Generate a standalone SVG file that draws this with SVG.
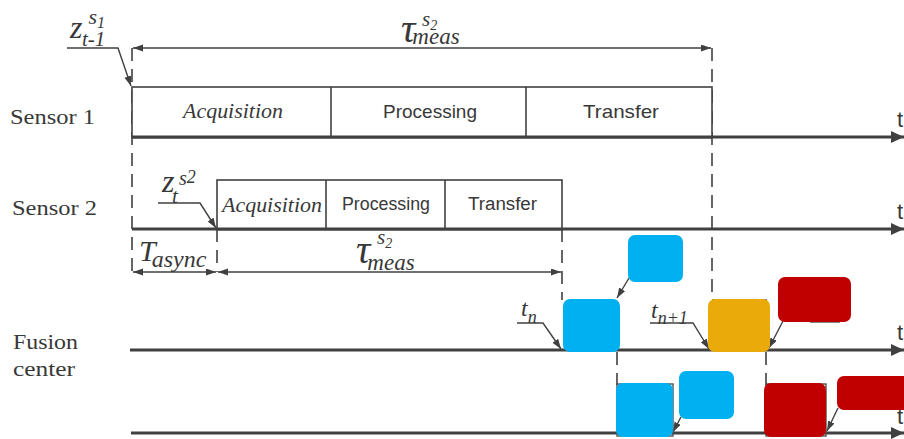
<svg xmlns="http://www.w3.org/2000/svg" width="904" height="439" viewBox="0 0 904 439">
<defs>
<marker id="ah" markerUnits="userSpaceOnUse" markerWidth="10" markerHeight="8" refX="10" refY="3.5" orient="auto-start-reverse"><path d="M0,0 L10,3.5 L0,7 z" fill="#404040"/></marker>
<marker id="big" markerUnits="userSpaceOnUse" markerWidth="14" markerHeight="13" refX="13" refY="6" orient="auto"><path d="M0,0 L13,6 L0,12 z" fill="#404040"/></marker>
</defs>
<style>
.lbl{font-family:"Liberation Serif",serif;font-size:22px;fill:#383838}
.sans{font-family:"Liberation Sans",Arial,sans-serif;fill:#383838}
.it{font-family:"Liberation Serif",serif;font-style:italic;fill:#383838}
.axis{stroke:#404040;stroke-width:3.2;fill:none}
.box{stroke:#404040;stroke-width:1.6;fill:#fff}
.dash{stroke:#404040;stroke-width:1.6;stroke-dasharray:13 8;fill:none}
.lead{stroke:#404040;stroke-width:1.4;fill:none}
.ghost{stroke:#505050;stroke-width:1.4;fill:none}
.blue{fill:#00B0F0}
.orange{fill:#EAAB0A}
.red{fill:#C00000}
</style>

<g id="labels">
<text class="lbl" x="10" y="124" textLength="85" lengthAdjust="spacingAndGlyphs">Sensor 1</text>
<text class="lbl" x="12" y="215" textLength="85" lengthAdjust="spacingAndGlyphs">Sensor 2</text>
<text class="lbl" x="13" y="349" textLength="65" lengthAdjust="spacingAndGlyphs">Fusion</text>
<text class="lbl" x="13" y="376" textLength="62" lengthAdjust="spacingAndGlyphs">center</text>
<text class="sans" x="897" y="127" font-size="22">t</text>
<text class="sans" x="897" y="219" font-size="22">t</text>
<text class="sans" x="897" y="340" font-size="22">t</text>
<text class="sans" x="897" y="424" font-size="22">t</text>
</g>

<g id="dashed">
<line class="dash" x1="132" y1="48" x2="132" y2="272"/>
<line class="dash" x1="712" y1="48" x2="712" y2="300"/>
<line class="dash" x1="217" y1="229" x2="217" y2="272"/>
<line class="dash" x1="562" y1="229" x2="562" y2="300"/>
<line class="dash" x1="617" y1="352" x2="617" y2="385"/>
<line class="dash" x1="766" y1="352" x2="766" y2="385"/>
</g>

<g id="axes">
<line class="axis" x1="132" y1="137" x2="904" y2="137" marker-end="url(#big)"/>
<line class="axis" x1="132" y1="229" x2="904" y2="229" marker-end="url(#big)"/>
<line class="axis" x1="130" y1="350" x2="904" y2="350" marker-end="url(#big)"/>
<line class="axis" x1="131" y1="433" x2="904" y2="433" marker-end="url(#big)"/>
</g>

<g id="sensor1">
<rect class="box" x="132" y="87" width="580" height="50"/>
<line class="box" x1="331" y1="87" x2="331" y2="137"/>
<line class="box" x1="526" y1="87" x2="526" y2="137"/>
<line class="axis" x1="132" y1="137" x2="712" y2="137"/>
<text class="it" x="183" y="118" font-size="21" textLength="100" lengthAdjust="spacingAndGlyphs">Acquisition</text>
<text class="sans" x="383" y="118" font-size="19" textLength="94" lengthAdjust="spacingAndGlyphs">Processing</text>
<text class="sans" x="583" y="118" font-size="19" textLength="76" lengthAdjust="spacingAndGlyphs">Transfer</text>
</g>

<g id="sensor2">
<rect class="box" x="217" y="180" width="345" height="49"/>
<line class="box" x1="326" y1="180" x2="326" y2="229"/>
<line class="box" x1="445" y1="180" x2="445" y2="229"/>
<line class="axis" x1="217" y1="229" x2="562" y2="229"/>
<text class="it" x="222" y="212" font-size="21" textLength="100" lengthAdjust="spacingAndGlyphs">Acquisition</text>
<text class="sans" x="342" y="210" font-size="18" textLength="88" lengthAdjust="spacingAndGlyphs">Processing</text>
<text class="sans" x="468" y="210" font-size="18" textLength="69" lengthAdjust="spacingAndGlyphs">Transfer</text>
</g>

<g id="connectors">
<line class="lead" x1="133" y1="48" x2="711" y2="48" marker-start="url(#ah)" marker-end="url(#ah)"/>
<line class="lead" x1="133" y1="272" x2="216" y2="272" marker-start="url(#ah)" marker-end="url(#ah)"/>
<line class="lead" x1="218" y1="272" x2="561" y2="272" marker-start="url(#ah)" marker-end="url(#ah)"/>
<polyline class="lead" points="67,48 118,48 131,86" marker-end="url(#ah)"/>
<polyline class="lead" points="158,203 200,203 216,228" marker-end="url(#ah)"/>
<polyline class="lead" points="517,323 543,323 561,349" marker-end="url(#ah)"/>
<polyline class="lead" points="650,323 693,323 709,349" marker-end="url(#ah)"/>
<line class="lead" x1="629" y1="278" x2="617" y2="298" marker-end="url(#ah)"/>
<line class="lead" x1="783" y1="321" x2="769" y2="348" marker-end="url(#ah)"/>
<line class="lead" x1="681" y1="417" x2="673" y2="432" marker-end="url(#ah)"/>
<line class="lead" x1="838" y1="408" x2="827" y2="431" marker-end="url(#ah)"/>
</g>

<g id="math">
<text class="it" x="70" y="38" font-size="32">z<tspan font-size="22" dx="6" dy="-14">s</tspan><tspan font-size="16" dy="4">1</tspan></text>
<text class="it" x="82" y="46" font-size="21">t-1</text>
<text class="it" x="401" y="42" font-size="40">τ<tspan font-size="23" dx="-3" dy="2">meas</tspan></text>
<text class="it" x="422" y="26" font-size="21">s<tspan font-size="14" dy="4">2</tspan></text>
<text class="it" x="162" y="192" font-size="32">z</text>
<text class="it" x="179" y="185" font-size="20">s<tspan font-size="18" dy="-2">2</tspan></text>
<text class="it" x="172" y="203" font-size="21">t</text>
<text class="it" x="139" y="261" font-size="30">T<tspan font-size="24" dx="-4" dy="6">async</tspan></text>
<text class="it" x="356" y="263" font-size="40">τ<tspan font-size="23" dx="-3" dy="7">meas</tspan></text>
<text class="it" x="377" y="244" font-size="21">s<tspan font-size="14" dy="4">2</tspan></text>
<text class="it" x="521" y="316" font-size="24">t<tspan font-size="18" dy="7">n</tspan></text>
<text class="it" x="651" y="318" font-size="24">t<tspan font-size="18" dy="6">n+1</tspan></text>
</g>

<g id="ghosts">
<rect class="ghost" x="617" y="384" width="56" height="52"/>
<rect class="ghost" x="766" y="384" width="60" height="52"/>
<line class="ghost" x1="712" y1="300" x2="767" y2="300"/>
<line class="ghost" x1="810" y1="322" x2="840" y2="322"/>
</g>

<g id="box-blue-tn"><rect class="blue" x="563" y="299" width="57" height="53" rx="7"/></g>
<g id="box-blue-top"><rect class="blue" x="628" y="235" width="55" height="47" rx="7"/></g>
<g id="box-orange"><rect class="orange" x="708" y="299" width="62" height="53" rx="7"/></g>
<g id="box-red-top"><rect class="red" x="778" y="277" width="73" height="45" rx="7"/></g>
<g id="box-blue-low"><rect class="blue" x="616" y="383" width="57" height="54" rx="7"/></g>
<g id="box-blue-low2"><rect class="blue" x="679" y="371" width="55" height="48" rx="7"/></g>
<g id="box-red-low"><rect class="red" x="764" y="383" width="62" height="54" rx="7"/></g>
<g id="box-red-low2"><rect class="red" x="837" y="376" width="75" height="34" rx="7"/></g>
</svg>
